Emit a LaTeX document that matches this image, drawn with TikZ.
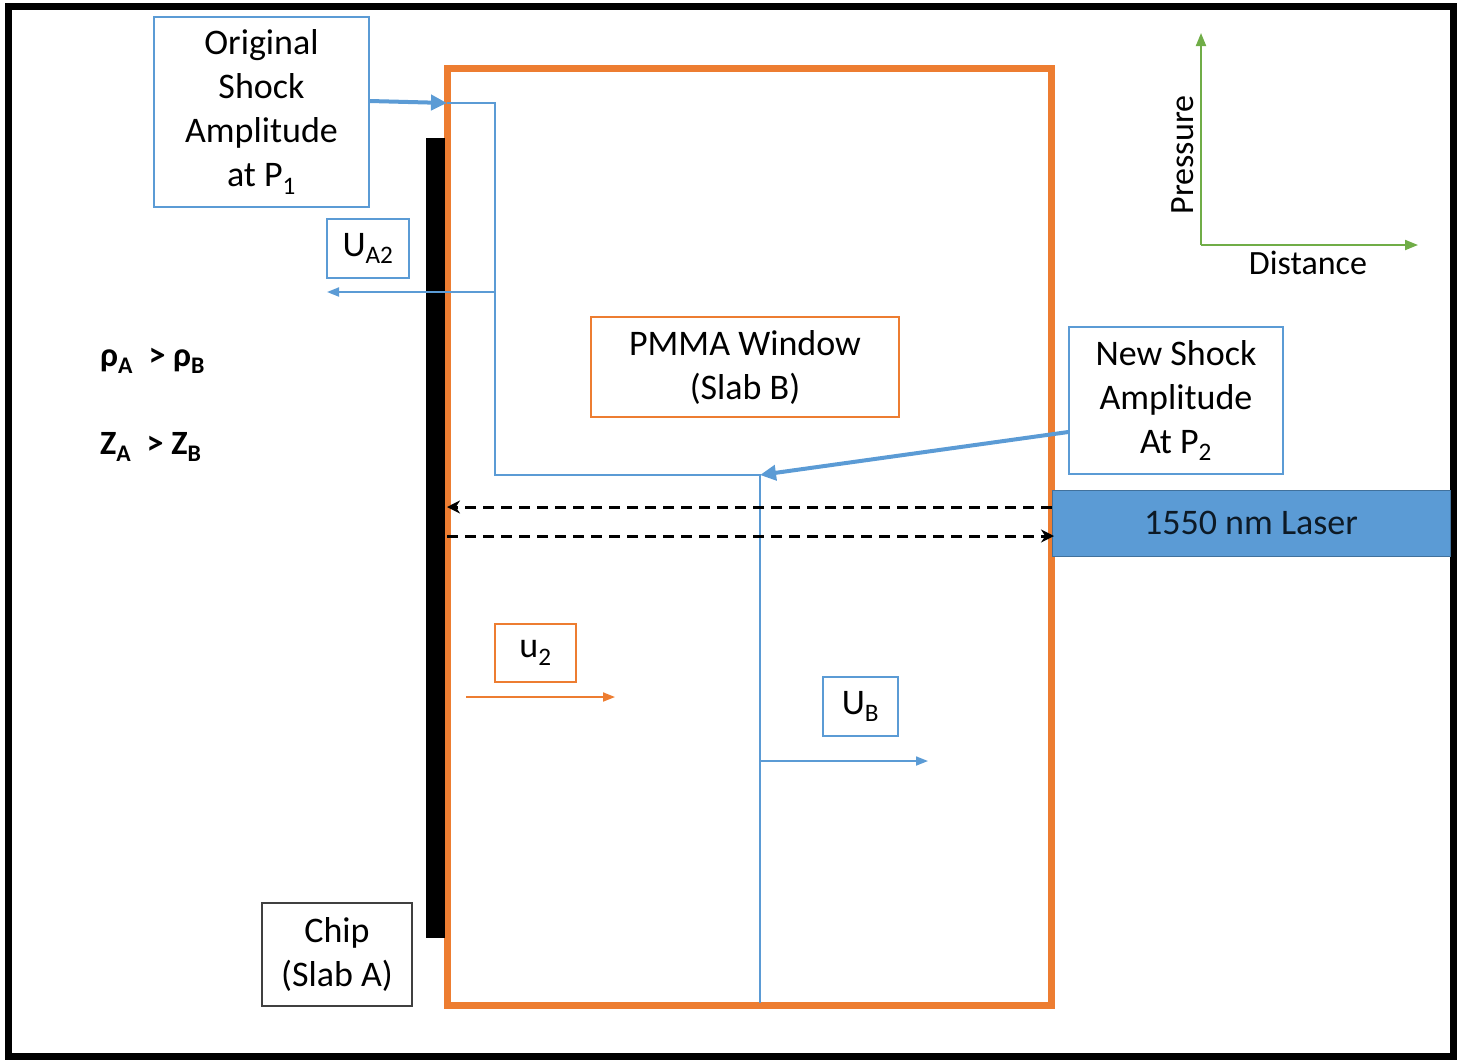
\documentclass[tikz,border=0pt]{standalone}
\usepackage{fontspec}
\setmainfont{Carlito}
\usetikzlibrary{arrows.meta}
\definecolor{ob}{HTML}{ED7D31}
\definecolor{bb}{HTML}{5B9BD5}
\definecolor{gb}{HTML}{70AD47}
\definecolor{lb}{HTML}{41719C}
\definecolor{dk}{HTML}{404040}
\definecolor{lt}{HTML}{0D1A26}
\begin{document}
\begin{tikzpicture}[x=1pt,y=-1pt,
  txt/.style={font=\fontsize{36}{44}\selectfont, align=center, inner sep=0pt, text=black},
  bluebox/.style={txt, draw=bb, line width=1.5pt},
  orangebox/.style={txt, draw=ob, line width=1.5pt},
  chipbox/.style={txt, draw=dk, line width=2pt},
  thinblue/.style={draw=bb, line width=1.8pt},
  thinarrow/.style={thinblue, -{Triangle[length=12pt,width=9pt]}},
  thickarrow/.style={draw=bb, line width=4pt, -{Triangle[length=16pt,width=15pt]}},
  orangearrow/.style={draw=ob, line width=1.8pt, -{Triangle[length=12pt,width=9pt]}},
  greenarrow/.style={draw=gb, line width=2pt, -{Triangle[length=13pt,width=10pt]}},
  dasharrow/.style={draw=black, line width=3pt, dash pattern=on 11pt off 7pt, -{Stealth[length=13pt,width=13pt]}},
  axislabel/.style={font=\fontsize{34}{40}\selectfont, inner sep=0pt},
  relation/.style={font=\fontsize{34}{40}\selectfont\bfseries, inner sep=0pt, anchor=west}
]
\useasboundingbox (0,0) rectangle (1461,1061);
% outer frame
\draw[line width=7pt, black] (8.5,6) rectangle (1453.5,1056.5);
% PMMA slab outline
\draw[line width=7pt, ob] (447.5,68.5) rectangle (1051,1005.5);
% chip bar
\fill[black] (426,138) rectangle (445,938);

% shock front path
\coordinate (p1) at (447,103);
\coordinate (c1) at (495,103);
\coordinate (c2) at (495,475);
\coordinate (p2) at (760,475);
\coordinate (c3) at (760,1003);
\coordinate (ua) at (495,292);
\coordinate (uaend) at (327,292);
\coordinate (ub) at (760,761);
\coordinate (ubend) at (928,761);
\draw[thinblue] (p1) -- (c1) -- (c2) -- (p2) -- (c3);
\draw[thinarrow] (ua) -- (uaend);
\draw[thinarrow] (ub) -- (ubend);

% u2 arrow
\coordinate (u2s) at (466,697);
\coordinate (u2e) at (615,697);
\draw[orangearrow] (u2s) -- (u2e);

% laser
\node[fill=bb, draw=lb, line width=1pt, minimum width=398pt, minimum height=66pt, inner sep=0pt,
      font=\fontsize{36}{44}\selectfont, text=lt] (laser) at (1251,523) {\raisebox{-2pt}{1550 nm Laser}};
\coordinate (ltop) at (1052,507);
\coordinate (ltopa) at (447,507);
\coordinate (lbs) at (447,536);
\coordinate (lbe) at (1054,536);
\draw[dasharrow] (ltop) -- (ltopa);
\draw[dasharrow] (lbs) -- (lbe);

% boxes
\node[bluebox, minimum width=215pt, minimum height=190pt] (orig) at (261.5,112)
  {\raisebox{-3pt}{\parbox{215pt}{\centering Original\\Shock\\Amplitude\\at P\textsubscript{1}}}};
\node[bluebox, minimum width=82pt, minimum height=59pt] (ua2) at (368,248.5) {U\textsubscript{A2}};
\node[orangebox, minimum width=308pt, minimum height=100pt] (pmma) at (745,367) {PMMA Window\\(Slab B)};
\node[bluebox, minimum width=214pt, minimum height=147pt] (new) at (1176,400.5)
  {\raisebox{-2pt}{\parbox{214pt}{\centering New Shock\\Amplitude\\At P\textsubscript{2}}}};
\node[orangebox, minimum width=81pt, minimum height=58pt] (u2) at (535.5,653) {u\textsubscript{2}};
\node[bluebox, minimum width=75pt, minimum height=59pt] (ubbox) at (860.5,706.5) {U\textsubscript{B}};
\node[chipbox, minimum width=150pt, minimum height=103pt] (chip) at (337,954.5) {Chip\\(Slab A)};

% pointer arrows
\draw[thickarrow] ([yshift=11pt]orig.east) -- (p1);
\draw[thickarrow] ([yshift=-31.5pt]new.west) -- (p2);

% relations
\node[relation] (rho) at (100,361) {ρ\textsubscript{A} \ > ρ\textsubscript{B}};
\node[relation] (zz) at (100,447) {Z\textsubscript{A} \ > Z\textsubscript{B}};

% axes
\coordinate (o) at (1201,245);
\coordinate (ytop) at (1201,33);
\coordinate (xend) at (1418,245);
\draw[greenarrow] (o) -- (ytop);
\draw[greenarrow] (o) -- (xend);
\node[axislabel, rotate=90] (pres) at (1183,155) {Pressure};
\node[axislabel] (dist) at (1308,263) {Distance};
\end{tikzpicture}
\end{document}
